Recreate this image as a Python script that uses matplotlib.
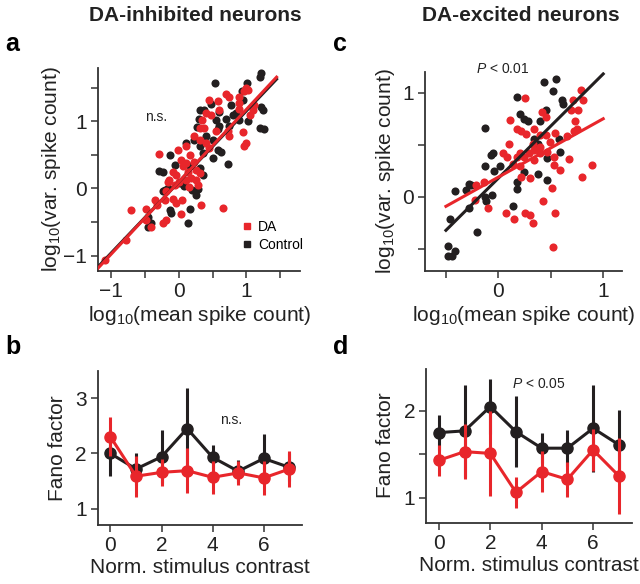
import numpy as np
import matplotlib
matplotlib.use("Agg")
import matplotlib.pyplot as plt
from matplotlib.lines import Line2D

plt.rcParams['font.family'] = ['Liberation Sans', 'DejaVu Sans']
plt.rcParams['mathtext.fontset'] = 'custom'
plt.rcParams['mathtext.rm'] = 'Liberation Sans'
plt.rcParams['mathtext.it'] = 'Liberation Sans:italic'

RED = '#e8262b'
BLACK = '#231f20'

# panel a: DA-inhibited, log10 mean vs log10 var
a_ctl = [(1.22, 1.72), (1.20, 1.66), (0.54, 1.58), (1.01, 1.57), (0.94, 1.45), (0.95, 1.32),
         (1.22, 1.21), (1.25, 1.17), (1.20, 0.90), (1.27, 0.88), (0.32, 1.17), (0.37, 1.17),
         (0.47, 1.26), (0.30, 1.04), (0.55, 1.02), (0.59, 0.93), (0.70, 1.03), (0.75, 0.93),
         (0.80, 1.10), (0.85, 1.12), (0.90, 1.02), (0.58, 0.88), (0.58, 0.58), (0.63, 0.55),
         (0.73, 0.36), (0.40, 0.78), (0.50, 0.73), (0.11, 0.68), (0.22, 0.73), (0.31, 0.63),
         (0.36, 0.53), (-0.13, 0.50), (-0.24, 0.25), (-0.29, 0.26), (-0.06, 0.35), (0.16, 0.33),
         (0.31, 0.30), (0.36, 0.20), (-0.24, -0.04), (-0.20, -0.03), (0.02, 0.08), (0.08, 0.03),
         (0.20, -0.02), (0.28, -0.01), (0.26, -0.09), (-0.13, -0.32), (-0.11, -0.37),
         (0.17, -0.31), (0.14, -0.52), (-0.41, -0.51), (-0.46, -0.57), (-0.46, -0.42),
         (0.51, 0.46), (0.60, 1.14), (0.78, 1.25), (1.03, 1.01), (0.27, 0.91), (-0.16, 0.01)]
a_da = [(1.00, 1.50), (0.97, 1.45), (1.02, 1.47), (0.70, 1.41), (0.74, 1.37), (0.58, 1.30),
        (0.45, 1.32), (0.90, 1.37), (0.90, 1.27), (1.12, 1.25), (1.10, 1.17), (1.05, 1.10),
        (0.89, 1.18), (0.60, 1.17), (0.40, 1.12), (0.34, 1.02), (0.48, 1.10), (0.31, 0.90),
        (0.38, 0.90), (0.55, 0.86), (0.73, 0.85), (0.95, 0.84), (1.00, 0.68), (0.97, 0.63),
        (0.75, 0.78), (0.23, 0.78), (0.31, 0.73), (0.41, 0.68), (0.11, 0.63), (0.16, 0.50),
        (-0.01, 0.58), (-0.29, 0.52), (0.03, 0.43), (0.11, 0.38), (0.06, 0.33), (-0.09, 0.25),
        (-0.04, 0.20), (0.13, 0.25), (0.26, 0.28), (0.31, 0.23), (0.18, 0.15), (0.26, 0.13),
        (0.11, 0.13), (-0.14, 0.13), (-0.16, 0.10), (0.01, 0.10), (-0.06, 0.05), (-0.19, -0.04),
        (-0.21, -0.17), (-0.09, -0.16), (-0.04, -0.21), (0.05, -0.17), (-0.36, -0.17),
        (-0.33, -0.24), (-0.48, -0.31), (-0.71, -0.32), (-0.48, -0.47), (-0.41, -0.58),
        (-0.24, -0.51), (-0.19, -0.47), (0.03, -0.38), (0.33, -0.24), (0.65, -0.29),
        (-0.78, -0.77), (-1.09, -1.06), (0.22, 0.40), (0.28, 0.05), (0.15, 0.02), (0.45, 0.60)]
a_fit_x = [-1.2, 1.45]
a_fit_ctl = [-1.17, 1.63]
a_fit_da = [-1.19, 1.66]

# panel c: DA-excited
c_ctl = [(0.44, 1.10), (0.55, 1.13), (0.52, 1.02), (0.18, 0.96), (0.61, 0.93), (0.62, 0.89),
         (0.21, 0.80), (0.24, 0.75), (0.28, 0.73), (0.45, 0.83), (0.40, 0.73), (-0.13, 0.66),
         (-0.05, 0.42), (-0.07, 0.40), (0.02, 0.30), (-0.04, 0.25), (-0.13, 0.30), (0.34, 0.56),
         (0.58, 0.56), (0.59, 0.43), (0.38, 0.51), (0.46, 0.37), (0.24, 0.24), (0.18, 0.14),
         (0.18, 0.08), (0.38, 0.22), (0.46, 0.16), (-0.28, 0.12), (-0.26, 0.11), (-0.41, 0.06),
         (-0.31, 0.07), (-0.06, 0.02), (-0.13, 0.00), (-0.12, -0.04), (-0.28, -0.11), (0.14, -0.09),
         (-0.46, -0.21), (-0.20, -0.34), (-0.48, -0.47), (-0.48, -0.57), (-0.44, -0.57),
         (-0.41, -0.52)]
c_da = [(0.79, 1.03), (0.71, 0.93), (0.81, 0.93), (0.76, 0.83), (0.69, 0.83), (0.25, 0.95),
        (0.42, 0.81), (0.45, 0.77), (0.11, 0.74), (0.18, 0.65), (0.22, 0.63), (0.26, 0.60),
        (0.34, 0.65), (0.40, 0.59), (0.45, 0.59), (0.73, 0.73), (0.75, 0.65), (0.72, 0.63),
        (0.65, 0.58), (0.54, 0.61), (0.49, 0.53), (0.33, 0.51), (0.10, 0.51), (0.04, 0.42),
        (0.08, 0.38), (0.18, 0.38), (0.21, 0.42), (0.24, 0.38), (0.29, 0.42), (0.34, 0.45),
        (0.40, 0.48), (0.40, 0.42), (0.46, 0.43), (0.53, 0.38), (0.14, 0.32), (0.21, 0.30),
        (0.34, 0.35), (0.53, 0.31), (0.67, 0.36), (0.89, 0.31), (0.80, 0.19), (0.59, 0.26),
        (0.30, 0.18), (0.22, 0.19), (0.51, 0.09), (0.43, -0.04), (-0.14, 0.14), (-0.21, 0.11),
        (-0.22, -0.03), (-0.10, -0.11), (0.07, -0.15), (0.15, -0.21), (0.25, -0.15),
        (0.30, -0.17), (0.33, -0.25), (0.54, -0.15), (0.52, -0.48)]
c_fit_x = [-0.5, 1.0]
c_fit_ctl = [-0.32, 1.18]
c_fit_da = [-0.09, 0.75]

# panels b, d: Fano factor vs contrast
contrast = [0, 1, 2, 3, 4, 5, 6, 7]
b_ctl = [2.00, 1.72, 1.94, 2.45, 1.93, 1.68, 1.91, 1.75]
b_ctl_err = [0.40, 0.28, 0.48, 0.73, 0.22, 0.20, 0.45, 0.25]
b_da = [2.30, 1.59, 1.66, 1.69, 1.57, 1.65, 1.56, 1.72]
b_da_err = [0.35, 0.37, 0.24, 0.40, 0.30, 0.22, 0.30, 0.32]
d_ctl = [1.75, 1.77, 2.05, 1.76, 1.57, 1.57, 1.80, 1.61]
d_ctl_err = [0.20, 0.53, 0.32, 0.41, 0.17, 0.21, 0.50, 0.40]
d_da = [1.43, 1.53, 1.51, 1.06, 1.30, 1.21, 1.55, 1.25]
d_da_err = [0.18, 0.32, 0.49, 0.18, 0.24, 0.20, 0.24, 0.44]

fig = plt.figure(figsize=(6.4, 5.84), dpi=100)

def style(ax):
    for s in ['top', 'right']:
        ax.spines[s].set_visible(False)
    for s in ['left', 'bottom']:
        ax.spines[s].set_color('#333333')
        ax.spines[s].set_linewidth(1.3)
    ax.tick_params(direction='out', length=5, width=1.1, color='#333333',
                   labelsize=15, labelcolor='#222222', pad=3)
    ax.tick_params(which='minor', direction='out', length=5, width=1.1, color='#333333')

def scatter_panel(ax, ctl, da, fx, fctl, fda):
    cx, cy = zip(*ctl)
    dx, dy = zip(*da)
    ax.scatter(cx, cy, s=34, color=BLACK, lw=0, zorder=2)
    ax.scatter(dx, dy, s=34, color=RED, lw=0, zorder=3)
    ax.plot(fx, fctl, color=BLACK, lw=2.2, zorder=4)
    ax.plot(fx, fda, color=RED, lw=2.2, zorder=5)

# a
ax = fig.add_axes([0.153, 0.536, 0.316, 0.348])
scatter_panel(ax, a_ctl, a_da, a_fit_x, a_fit_ctl, a_fit_da)
ax.set_xlim(-1.2, 1.8)
ax.set_ylim(-1.23, 1.8)
ax.set_xticks([-1, 0, 1], ['\u22121', '0', '1'])
ax.set_xticks([-0.5, 0.5, 1.5], minor=True)
ax.set_yticks([-1, 0, 1], ['\u22121', '0', '1'])
ax.set_yticks([-0.5, 0.5, 1.5], minor=True)
style(ax)
ax.set_xlabel(r'log$_{10}$(mean spike count)', fontsize=15, color='#222222', labelpad=2)
ax.set_ylabel(r'log$_{10}$(var. spike count)', fontsize=15, color='#222222', labelpad=0)
ax.text(-0.33, 1.07, 'n.s.', fontsize=10, color='#222222', ha='center', va='center')
handles = [Line2D([], [], ls='', marker='s', ms=5, color=RED),
           Line2D([], [], ls='', marker='s', ms=5, color=BLACK)]
ax.legend(handles, ['DA', 'Control'], loc='lower right', bbox_to_anchor=(1.05, 0.06),
          frameon=False, fontsize=10, handlelength=0.6, handletextpad=0.5,
          labelspacing=0.3, borderpad=0)
fig.text(0.305, 0.99, 'DA-inhibited neurons', fontsize=15, fontweight='bold',
         color='#222222', ha='center', va='top')
fig.text(0.008, 0.925, 'a', fontsize=18, fontweight='bold', va='center')

# c
ax = fig.add_axes([0.664, 0.536, 0.308, 0.341])
scatter_panel(ax, c_ctl, c_da, c_fit_x, c_fit_ctl, c_fit_da)
ax.set_xlim(-0.7, 1.18)
ax.set_ylim(-0.71, 1.2)
ax.set_xticks([0, 1], ['0', '1'])
ax.set_xticks([-0.5, 0.5], minor=True)
ax.set_yticks([0, 1], ['0', '1'])
ax.set_yticks([-0.5, 0.5], minor=True)
style(ax)
ax.set_xlabel(r'log$_{10}$(mean spike count)', fontsize=15, color='#222222', labelpad=2)
ax.set_ylabel(r'log$_{10}$(var. spike count)', fontsize=15, color='#222222', labelpad=4)
ax.text(0.04, 1.23, r'$P$ < 0.01', fontsize=10, color='#222222', ha='center',
        va='center', clip_on=False)
fig.text(0.814, 0.99, 'DA-excited neurons', fontsize=15, fontweight='bold',
         color='#222222', ha='center', va='top')
fig.text(0.52, 0.925, 'c', fontsize=18, fontweight='bold', va='center')

def fano_panel(ax, ctl, ctl_err, da, da_err):
    ax.errorbar(contrast, ctl, yerr=ctl_err, color=BLACK, lw=2.2, elinewidth=2.2,
                marker='o', ms=8, capsize=0, zorder=2)
    ax.errorbar(contrast, da, yerr=da_err, color=RED, lw=2.2, elinewidth=2.2,
                marker='o', ms=8, capsize=0, zorder=3)
    ax.set_xlim(-0.49, 7.5)
    ax.set_xticks([0, 2, 4, 6])
    style(ax)
    ax.set_xlabel('Norm. stimulus contrast', fontsize=15, color='#222222', labelpad=2)
    ax.set_ylabel('Fano factor', fontsize=15, color='#222222', labelpad=6)

# b
ax = fig.add_axes([0.153, 0.101, 0.319, 0.263])
fano_panel(ax, b_ctl, b_ctl_err, b_da, b_da_err)
ax.set_ylim(0.71, 3.48)
ax.set_yticks([1, 2, 3])
ax.text(4.73, 2.6, 'n.s.', fontsize=10, color='#222222', ha='center', va='center')
fig.text(0.008, 0.405, 'b', fontsize=18, fontweight='bold', va='center')

# d
ax = fig.add_axes([0.666, 0.105, 0.321, 0.264])
fano_panel(ax, d_ctl, d_ctl_err, d_da, d_da_err)
ax.set_ylim(0.71, 2.49)
ax.set_yticks([1, 2])
ax.set_yticks([1.5], minor=True)
ax.text(3.9, 2.31, r'$P$ < 0.05', fontsize=10, color='#222222', ha='center', va='center')
fig.text(0.52, 0.405, 'd', fontsize=18, fontweight='bold', va='center')

fig.savefig('out.png', dpi=100)
